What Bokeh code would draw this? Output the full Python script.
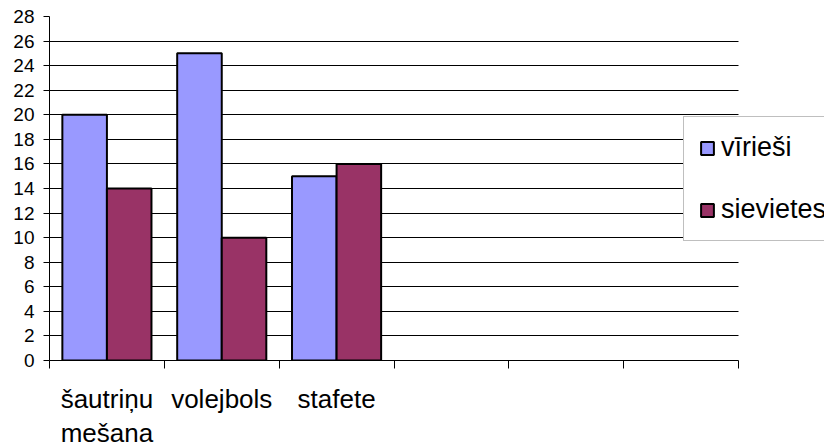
from bokeh.plotting import figure
from bokeh.models import Range1d, FixedTicker, Legend, LegendItem
from bokeh.embed import file_html
from bokeh.resources import INLINE

categories = ["šautriņu\nmešana", "volejbols", "stafete", "", "", ""]
viriesi = [20, 25, 15]
sievietes = [14, 10, 16]
series_names = ["vīrieši", "sievietes"]
y_ticks = list(range(0, 29, 2))

FONT = "Liberation Sans"
n_cat = len(categories)
bar_w = 0.388
centers = [i + 0.5 for i in range(len(viriesi))]

# category area is 689px wide of a 775px frame; the rest holds the legend overhang
x_end = n_cat * 775 / 689

p = figure(width=824, height=445, output_backend="svg", toolbar_location=None,
           x_range=Range1d(0, x_end), y_range=Range1d(0, 28),
           frame_width=775, frame_height=344,
           min_border_left=49, min_border_right=0, min_border_top=16, min_border_bottom=85)
p.outline_line_color = None
p.background_fill_color = "white"
p.border_fill_color = "white"

r1 = p.vbar(x=[c - bar_w / 2 for c in centers], top=viriesi, width=bar_w,
            fill_color="#9999FF", line_color="black", line_width=2)
r2 = p.vbar(x=[c + bar_w / 2 for c in centers], top=sievietes, width=bar_w,
            fill_color="#993366", line_color="black", line_width=2)

# x axis
p.xaxis.bounds = (0, n_cat)
p.xaxis.ticker = FixedTicker(ticks=[i + 0.5 for i in range(n_cat)],
                             minor_ticks=list(range(n_cat + 1)))
p.xaxis.major_label_overrides = {i + 0.5: c for i, c in enumerate(categories)}
p.xaxis.major_tick_line_color = None
p.xaxis.major_tick_out = 0
p.xaxis.major_tick_in = 0
p.xaxis.minor_tick_out = 8
p.xaxis.minor_tick_in = 0
p.xaxis.minor_tick_line_color = "black"
p.xaxis.axis_line_color = "black"
p.xaxis.major_label_standoff = 15
p.xaxis.major_label_text_font = FONT
p.xaxis.major_label_text_font_size = "26px"
p.xaxis.major_label_text_line_height = 1.15
p.xaxis.major_label_text_color = "black"
p.xgrid.grid_line_color = None

# y axis
p.yaxis.ticker = FixedTicker(ticks=y_ticks)
p.yaxis.major_tick_out = 6
p.yaxis.major_tick_in = 0
p.yaxis.minor_tick_line_color = None
p.yaxis.axis_line_color = "black"
p.yaxis.major_tick_line_color = "black"
p.yaxis.major_label_standoff = 9
p.yaxis.major_label_text_font = FONT
p.yaxis.major_label_text_font_size = "19px"
p.yaxis.major_label_text_color = "black"
p.ygrid.ticker = FixedTicker(ticks=y_ticks[1:-1])
p.ygrid.cross_bounds = (0, n_cat)
p.ygrid.grid_line_color = "black"
p.ygrid.grid_line_width = 1

legend = Legend(items=[LegendItem(label=series_names[0], renderers=[r1]),
                       LegendItem(label=series_names[1], renderers=[r2])],
                location=(634, 119))
legend.border_line_color = "#808080"
legend.border_line_width = 1
legend.background_fill_color = "white"
legend.background_fill_alpha = 1
legend.label_text_font = FONT
legend.label_text_font_size = "27px"
legend.label_text_color = "black"
legend.glyph_width = 16
legend.glyph_height = 16
legend.label_standoff = 6
legend.padding = 15
legend.spacing = 31
legend.margin = 0
p.add_layout(legend, "center")

open("out.html", "w").write(file_html(p, INLINE))
